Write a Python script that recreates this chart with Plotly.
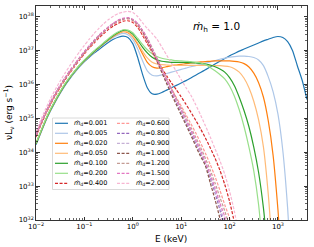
import plotly.graph_objects as go

# ---------------- data (log10 values) ----------------
LOG_E = [-2.0, -1.9, -1.8, -1.7, -1.6, -1.5, -1.4, -1.3, -1.2, -1.1,
         -1.0, -0.9, -0.8, -0.7, -0.6, -0.5, -0.4, -0.3, -0.2, -0.1,
         0.0, 0.1, 0.2, 0.3, 0.4, 0.5, 0.6, 0.7, 0.8, 0.9,
         1.0, 1.1, 1.2, 1.3, 1.4, 1.5, 1.6, 1.7, 1.8, 1.9,
         2.0, 2.1, 2.2, 2.3, 2.4, 2.5, 2.6, 2.7, 2.8, 2.9,
         3.0, 3.1, 3.2, 3.3, 3.4, 3.5, 3.6]

MD_0001 = [34.22, 34.57, 34.92, 35.22, 35.49, 35.74, 35.97, 36.17, 36.35, 36.52,
           36.67, 36.8, 36.92, 37.03, 37.14, 37.24, 37.33, 37.39, 37.42, 37.38,
           37.2, 36.8, 36.3, 35.9, 35.72, 35.71, 35.76, 35.83, 35.9, 35.97,
           36.04, 36.11, 36.19, 36.27, 36.35, 36.43, 36.51, 36.6, 36.68, 36.76,
           36.84, 36.91, 36.98, 37.04, 37.1, 37.16, 37.22, 37.28, 37.33, 37.38,
           37.41, 37.38, 37.26, 37.0, 36.55, 36.12, 35.55]
MD_0005 = [34.24, 34.59, 34.94, 35.24, 35.51, 35.76, 35.99, 36.19, 36.37, 36.54,
           36.69, 36.82, 36.95, 37.07, 37.18, 37.29, 37.39, 37.46, 37.5, 37.46,
           37.32, 37.05, 36.7, 36.4, 36.27, 36.25, 36.28, 36.32, 36.36, 36.4,
           36.44, 36.48, 36.52, 36.55, 36.58, 36.62, 36.66, 36.7, 36.74, 36.77,
           36.8, 36.82, 36.83, 36.83, 36.82, 36.79, 36.72, 36.55, 36.22, 35.78,
           35.12, 34.05, 32.35, 30.0]
MD_0020 = [34.25, 34.6, 34.95, 35.25, 35.52, 35.77, 36.0, 36.2, 36.38, 36.55,
           36.7, 36.83, 36.96, 37.08, 37.2, 37.31, 37.42, 37.5, 37.55, 37.52,
           37.4, 37.18, 36.9, 36.65, 36.52, 36.48, 36.49, 36.52, 36.55, 36.57,
           36.59, 36.61, 36.63, 36.65, 36.66, 36.67, 36.68, 36.69, 36.69, 36.69,
           36.69, 36.68, 36.66, 36.61, 36.51, 36.33, 36.05, 35.62, 34.92, 33.9,
           32.3, 30.3]
MD_0050 = [34.25, 34.6, 34.95, 35.25, 35.52, 35.77, 36.0, 36.2, 36.38, 36.55,
           36.7, 36.84, 36.97, 37.09, 37.21, 37.32, 37.43, 37.51, 37.57, 37.54,
           37.42, 37.22, 36.98, 36.78, 36.65, 36.6, 36.58, 36.57, 36.56, 36.56,
           36.56, 36.56, 36.56, 36.56, 36.56, 36.56, 36.55, 36.55, 36.55, 36.54,
           36.52, 36.46, 36.36, 36.18, 35.9, 35.5, 34.95, 34.15, 32.75, 30.8]
MD_0100 = [34.25, 34.6, 34.95, 35.25, 35.52, 35.77, 36.0, 36.2, 36.38, 36.55,
           36.7, 36.84, 36.97, 37.09, 37.21, 37.33, 37.44, 37.53, 37.59, 37.58,
           37.48, 37.3, 37.1, 36.93, 36.8, 36.72, 36.68, 36.66, 36.65, 36.65,
           36.65, 36.64, 36.64, 36.63, 36.62, 36.6, 36.57, 36.52, 36.45, 36.36,
           36.2, 35.96, 35.62, 35.22, 34.75, 34.15, 33.4, 32.35, 30.9]
MD_0200 = [34.27, 34.62, 34.97, 35.27, 35.54, 35.79, 36.02, 36.22, 36.4, 36.57,
           36.72, 36.86, 36.99, 37.11, 37.23, 37.35, 37.46, 37.55, 37.61, 37.6,
           37.52, 37.36, 37.18, 37.02, 36.9, 36.82, 36.77, 36.74, 36.72, 36.7,
           36.69, 36.68, 36.67, 36.65, 36.63, 36.58, 36.5, 36.4, 36.29, 36.16,
           35.95, 35.65, 35.25, 34.75, 34.15, 33.45, 32.45, 30.9]
MD_0400 = [34.45, 34.8, 35.12, 35.41, 35.67, 35.91, 36.13, 36.34, 36.53, 36.72,
           36.9, 37.07, 37.22, 37.37, 37.5, 37.62, 37.72, 37.8, 37.86, 37.88,
           37.82, 37.68, 37.45, 37.2, 36.95, 36.7, 36.47, 36.25, 36.04, 35.84,
           35.63, 35.41, 35.18, 34.94, 34.69, 34.42, 34.13, 33.82, 33.47, 33.05,
           32.55, 31.92, 31.1]
MD_0600 = [34.47, 34.82, 35.14, 35.43, 35.69, 35.93, 36.15, 36.36, 36.55, 36.74,
           36.92, 37.09, 37.25, 37.4, 37.53, 37.65, 37.76, 37.84, 37.89, 37.9,
           37.85, 37.72, 37.5, 37.24, 36.96, 36.68, 36.4, 36.13, 35.87, 35.61,
           35.36, 35.1, 34.84, 34.57, 34.28, 33.97, 33.64, 33.28, 32.88, 32.45,
           32.05, 31.4]
MD_0800 = [34.5, 34.85, 35.17, 35.46, 35.72, 35.96, 36.18, 36.39, 36.58, 36.77,
           36.95, 37.12, 37.28, 37.43, 37.56, 37.68, 37.79, 37.88, 37.93, 37.95,
           37.9, 37.78, 37.57, 37.32, 37.02, 36.71, 36.39, 36.07, 35.76, 35.46,
           35.16, 34.87, 34.57, 34.27, 33.96, 33.65, 33.25, 32.8, 32.3, 31.7]
MD_0900 = [34.5, 34.85, 35.17, 35.46, 35.72, 35.96, 36.18, 36.39, 36.58, 36.77,
           36.95, 37.12, 37.28, 37.43, 37.56, 37.68, 37.79, 37.88, 37.93, 37.95,
           37.9, 37.78, 37.58, 37.33, 37.03, 36.73, 36.42, 36.1, 35.8, 35.5,
           35.2, 34.91, 34.62, 34.32, 34.0, 33.68, 33.3, 32.88, 32.42, 31.9]
MD_1000 = [34.5, 34.85, 35.17, 35.46, 35.72, 35.96, 36.18, 36.39, 36.58, 36.77,
           36.95, 37.12, 37.28, 37.43, 37.56, 37.68, 37.79, 37.88, 37.93, 37.95,
           37.9, 37.77, 37.56, 37.3, 37.0, 36.68, 36.35, 36.02, 35.7, 35.4,
           35.1, 34.8, 34.5, 34.18, 33.88, 33.6, 33.1, 32.6, 32.05, 31.4]
MD_1200 = [34.5, 34.85, 35.17, 35.46, 35.72, 35.96, 36.18, 36.39, 36.58, 36.77,
           36.95, 37.12, 37.28, 37.43, 37.56, 37.68, 37.79, 37.88, 37.93, 37.95,
           37.9, 37.78, 37.59, 37.37, 37.08, 36.78, 36.48, 36.18, 35.88, 35.59,
           35.3, 35.02, 34.73, 34.44, 34.14, 33.82, 33.47, 33.09, 32.67, 32.27,
           31.8]
MD_1500 = [34.52, 34.87, 35.19, 35.48, 35.74, 35.98, 36.2, 36.41, 36.6, 36.79,
           36.97, 37.14, 37.3, 37.45, 37.58, 37.7, 37.81, 37.9, 37.95, 37.97,
           37.92, 37.8, 37.6, 37.35, 37.05, 36.75, 36.44, 36.13, 35.83, 35.53,
           35.24, 34.95, 34.66, 34.36, 34.05, 33.72, 33.35, 32.95, 32.5, 32.1,
           31.5]
MD_2000 = [34.6, 34.95, 35.28, 35.58, 35.85, 36.1, 36.33, 36.55, 36.76, 36.96,
           37.15, 37.33, 37.5, 37.65, 37.79, 37.91, 38.01, 38.09, 38.13, 38.15,
           38.12, 38.0, 37.82, 37.65, 37.5, 37.33, 37.1, 36.86, 36.62, 36.38,
           36.14, 35.9, 35.68, 35.4, 35.1, 34.78, 34.45, 34.1, 33.75, 33.35,
           32.85, 32.25, 31.5]

MDOT_D = ["0.001", "0.005", "0.020", "0.050", "0.100", "0.200", "0.400",
          "0.600", "0.800", "0.900", "1.000", "1.200", "1.500", "2.000"]
SERIES = [MD_0001, MD_0005, MD_0020, MD_0050, MD_0100, MD_0200, MD_0400,
          MD_0600, MD_0800, MD_0900, MD_1000, MD_1200, MD_1500, MD_2000]

X_TICK_VALS = [1e-2, 1e-1, 1e0, 1e1, 1e2, 1e3]
X_TICK_TEXT = ["10<sup>−2</sup>", "10<sup>−1</sup>", "10<sup>0</sup>",
               "10<sup>1</sup>", "10<sup>2</sup>", "10<sup>3</sup>"]
Y_TICK_VALS = [1e32, 1e33, 1e34, 1e35, 1e36, 1e37, 1e38]
Y_TICK_TEXT = ["10<sup>32</sup>", "10<sup>33</sup>", "10<sup>34</sup>",
               "10<sup>35</sup>", "10<sup>36</sup>", "10<sup>37</sup>",
               "10<sup>38</sup>"]
MDOT_H_TEXT = "<i>ṁ</i><sub>h</sub> = 1.0"

# ---------------- styles ----------------
COLORS = ["#1f77b4", "#aec7e8", "#ff7f0e", "#ffbb78", "#2ca02c", "#98df8a",
          "#d62728", "#ff9896", "#9467bd", "#c5b0d5", "#8c564b", "#c49c94",
          "#e377c2", "#f7b6d2"]
DASHED = [False] * 6 + [True] * 8
DASH = "3px,1.6px"
FONT = "DejaVu Sans, Liberation Sans, sans-serif"

W, H = 314, 247
PL, PR, PT, PB = 36, 307, 6, 220  # plot area in pixels


def px(x):
    return (x - PL) / (PR - PL)


def py(y):
    return (PB - y) / (PB - PT)


fig = go.Figure()
for vals, lab, col, dsh in zip(SERIES, MDOT_D, COLORS, DASHED):
    xs = [10 ** e for e in LOG_E[:len(vals)]]
    ys = [10 ** v for v in vals]
    fig.add_trace(go.Scatter(
        x=xs, y=ys, mode="lines", name=lab, showlegend=False,
        line=dict(color=col, width=1.2, dash=DASH if dsh else "solid",
                  shape="spline", smoothing=0.6)))

minor_x = [m * 10.0 ** k for k in range(-2, 4) for m in range(2, 10)]
minor_y = [m * 10.0 ** k for k in range(32, 39) for m in range(2, 10)]

axis_common = dict(
    type="log", showline=True, linecolor="black", linewidth=0.8,
    mirror="allticks", ticks="inside", ticklen=3.5, tickwidth=0.8,
    tickcolor="black", showgrid=False, zeroline=False,
    tickfont=dict(family=FONT, size=7, color="black"), tickmode="array",
)
fig.update_xaxes(**axis_common, range=[-2, 3.6], tickvals=X_TICK_VALS,
                 ticktext=X_TICK_TEXT,
                 minor=dict(ticks="inside", ticklen=2, tickwidth=0.6,
                            tickcolor="black", tickmode="array",
                            tickvals=minor_x, showgrid=False))
fig.update_yaxes(**axis_common, range=[32, 38.31], tickvals=Y_TICK_VALS,
                 ticktext=Y_TICK_TEXT,
                 minor=dict(ticks="inside", ticklen=2, tickwidth=0.6,
                            tickcolor="black", tickmode="array",
                            tickvals=minor_y, showgrid=False))

shapes = []
annotations = []

# legend box
shapes.append(dict(type="rect", xref="paper", yref="paper",
                   x0=px(52.5), x1=px(169), y0=py(189.5), y1=py(118),
                   line=dict(color="#d0d0d0", width=0.8),
                   fillcolor="rgba(255,255,255,0.8)", layer="above"))
for i, (lab, col, dsh) in enumerate(zip(MDOT_D, COLORS, DASHED)):
    colm, row = divmod(i, 7)
    yc = 123.3 + row * 10.0
    lx0 = 55 if colm == 0 else 117
    shapes.append(dict(type="line", xref="paper", yref="paper",
                       x0=px(lx0), x1=px(lx0 + 13), y0=py(yc), y1=py(yc),
                       line=dict(color=col, width=1.2,
                                 dash=DASH if dsh else "solid"),
                       layer="above"))
    annotations.append(dict(xref="paper", yref="paper", x=px(lx0 + 16.5),
                            y=py(yc), xanchor="left", yanchor="middle",
                            showarrow=False,
                            text="<i>ṁ</i><sub>d</sub>=" + lab,
                            font=dict(family=FONT, size=6.5, color="black")))

annotations.append(dict(xref="paper", yref="paper", x=px(191), y=py(27),
                        xanchor="left", yanchor="middle", showarrow=False,
                        text=MDOT_H_TEXT,
                        font=dict(family=FONT, size=10.5, color="black")))
annotations.append(dict(xref="paper", yref="paper", x=px(171), y=py(239),
                        xanchor="center", yanchor="middle", showarrow=False,
                        text="E (keV)",
                        font=dict(family=FONT, size=9, color="black")))
annotations.append(dict(xref="paper", yref="paper", x=px(8), y=py(113),
                        xanchor="center", yanchor="middle", showarrow=False,
                        textangle=-90,
                        text="νL<sub>ν</sub> (erg s<sup>−1</sup>)",
                        font=dict(family=FONT, size=9, color="black")))

fig.update_layout(
    width=W, height=H,
    margin=dict(l=PL, r=W - PR, t=PT, b=H - PB, pad=0),
    paper_bgcolor="white", plot_bgcolor="white",
    showlegend=False, shapes=shapes, annotations=annotations,
    font=dict(family=FONT, color="black"),
)

fig.write_html("out.html",
               config={"displayModeBar": False, "staticPlot": True},
               post_script="document.body.style.margin='0px';"
                           "document.body.style.padding='0px';")
